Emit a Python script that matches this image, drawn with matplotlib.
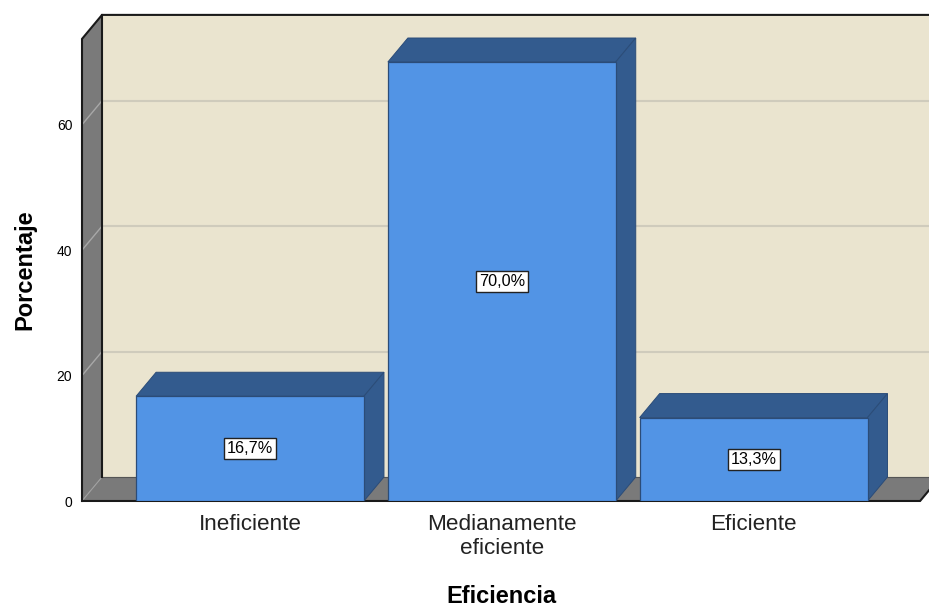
import matplotlib
matplotlib.use('Agg')
from matplotlib import pyplot as plt

categories = ['Ineficiente', 'Medianamente\neficiente', 'Eficiente']
percent = [16.7, 70.0, 13.3]
y_ticks = [0, 20, 40, 60]

W, H = 929, 606
plt.rcParams['font.family'] = ['Liberation Sans', 'DejaVu Sans']

FRONT = '#5294E5'
DARK = '#335B8E'
EDGE = '#2B4C78'
WALL = '#EAE4CF'
GREY = '#7A7A7A'
GRID = '#CFCBBC'

fig = plt.figure(figsize=((W + 0.1) / 100, (H + 0.1) / 100), dpi=100)
# axes box is the front plane of the 3d look, the depth goes up and right from it
ax = fig.add_axes([82 / W, 1 - 501 / H, (920 - 82) / W, (501 - 39) / H])
ax.set_xlim((82 - 250) / 251.75, (920 - 250) / 251.75)
ax.set_ylim(0, 462 / 6.27)
x0, x1 = ax.get_xlim()
y0, y1 = ax.get_ylim()
dx = 20 / 251.75
dy = 24 / 6.27
bar_w = 0.905

for s in ax.spines.values():
    s.set_visible(False)
ax.patch.set_visible(False)

# back wall, left wall and floor
ax.fill([x0 + dx, x1 + dx, x1 + dx, x0 + dx], [y0 + dy, y0 + dy, y1 + dy, y1 + dy],
        color=WALL, lw=0, clip_on=False, zorder=1)
ax.fill([x0, x0 + dx, x0 + dx, x0], [y0, y0 + dy, y1 + dy, y1],
        color=GREY, lw=0, clip_on=False, zorder=1)
ax.fill([x0, x1, x1 + dx, x0 + dx], [y0, y0, y0 + dy, y0 + dy],
        color=GREY, lw=0, clip_on=False, zorder=1)

# gridlines run along the back wall and bend down the left wall
for t in y_ticks[1:]:
    ax.plot([x0 + dx, x1 + dx], [t + dy, t + dy], color=GRID, lw=1.5, clip_on=False, zorder=2)
    ax.plot([x0, x0 + dx], [t, t + dy], color='#A8A8A8', lw=1, clip_on=False, zorder=2)
ax.plot([x0, x0 + dx], [y0, y0 + dy], color='#A0A0A0', lw=0.8, clip_on=False, zorder=2)
ax.plot([x0 + dx, x1 + dx], [y0 + dy, y0 + dy], color='#555555', lw=0.8, clip_on=False, zorder=2)

# outline of the frame
ax.plot([x0, x0, x0 + dx, x1 + dx], [y0, y1, y1 + dy, y1 + dy], color='#1A1A1A', lw=1.5,
        clip_on=False, zorder=3, solid_joinstyle='miter')
ax.plot([x0 + dx, x0 + dx], [y0 + dy, y1 + dy], color='#1A1A1A', lw=1.5, clip_on=False, zorder=3)
ax.plot([x0, x1, x1 + dx], [y0, y0, y0 + dy], color='#1A1A1A', lw=1.5, clip_on=False, zorder=3,
        solid_joinstyle='miter')

# bars
pos = list(range(len(percent)))
ax.bar(pos, percent, width=bar_w, color=FRONT, edgecolor=EDGE, linewidth=0.9, zorder=5)
for i, v in zip(pos, percent):
    l, r = i - bar_w / 2, i + bar_w / 2
    ax.fill([l, r, r + dx, l + dx], [v, v, v + dy, v + dy], facecolor=DARK, edgecolor=EDGE,
            lw=0.7, clip_on=False, zorder=4)
    ax.fill([r, r + dx, r + dx, r], [0, dy, v + dy, v], facecolor=DARK, edgecolor=EDGE,
            lw=0.7, clip_on=False, zorder=4)
    ax.text(i, v / 2, f'{v:.1f}%'.replace('.', ','), ha='center', va='center', fontsize=11.7,
            color='black', zorder=6,
            bbox=dict(boxstyle='square,pad=0.18', fc='white', ec='#222222', lw=1))

ax.set_xticks(pos)
ax.set_xticklabels(categories, fontsize=16.2, color='#222222', linespacing=1.15)
ax.set_yticks(y_ticks)
ax.set_yticklabels([str(t) for t in y_ticks], fontsize=10, color='black')
ax.tick_params(axis='both', length=0)
ax.tick_params(axis='x', pad=9.5)
ax.tick_params(axis='y', pad=7)

ax.set_xlabel('Eficiencia', fontsize=17, fontweight='bold')
ax.set_ylabel('Porcentaje', fontsize=17, fontweight='bold')
ax.xaxis.set_label_coords((501 - 82) / 838, -(596 - 501) / 462, transform=ax.transAxes)
ax.xaxis.label.set_va('center')
ax.yaxis.set_label_coords(-(82 - 25) / 838, (501 - 270) / 462, transform=ax.transAxes)
ax.yaxis.label.set_va('center')

fig.savefig('out.png', dpi=100, facecolor='white')
